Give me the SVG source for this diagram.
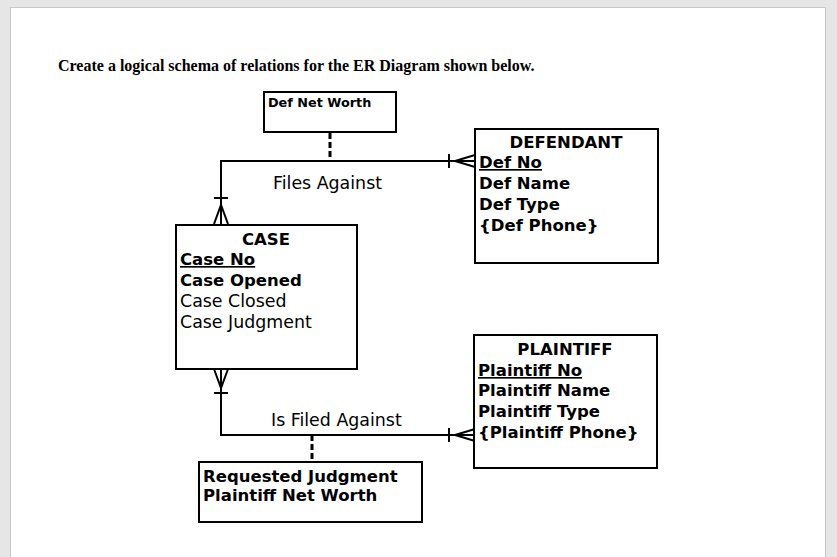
<svg xmlns="http://www.w3.org/2000/svg" width="837" height="557" viewBox="0 0 837 557">
<style>
.box{fill:#fff;stroke:#000;stroke-width:2}
.t{font-family:"DejaVu Sans",Verdana,sans-serif;font-size:17.4px;fill:#000}
.b{font-weight:bold;font-size:16.5px}
.s{font-size:12.8px}
.u{text-decoration:underline}
.ln{fill:none;stroke:#000;stroke-width:2}
.dash{stroke:#000;stroke-width:3;stroke-dasharray:6,3}
</style>
<rect width="837" height="557" fill="#e6e6e6"/>
<rect x="10.5" y="7.5" width="815" height="560" fill="#fff" stroke="#c8c8c8"/>
<text x="58" y="71" font-family="Liberation Serif,serif" font-weight="bold" font-size="16">Create a logical schema of relations for the ER Diagram shown below.</text>
<g id="connectors">
<polyline class="ln" points="221,224 221,161 475,161"/>
<polyline class="ln" points="221,369 221,435 474,435"/>
<polyline class="ln" points="475,155 455,161 475,167"/>
<line class="ln" x1="449" y1="154" x2="449" y2="168"/>
<polyline class="ln" points="475,429 455,435 475,441"/>
<line class="ln" x1="449" y1="428" x2="449" y2="442"/>
<polyline class="ln" points="214,224 221,205 228,224"/>
<line class="ln" x1="214" y1="198" x2="228" y2="198"/>
<polyline class="ln" points="214,369 221,388 228,369"/>
<line class="ln" x1="214" y1="393" x2="228" y2="393"/>
<line class="dash" x1="330" y1="133" x2="330" y2="161"/>
<line class="dash" x1="312" y1="435" x2="312" y2="462"/>
<text class="t" x="273" y="189">Files Against</text>
<text class="t" x="271" y="426">Is Filed Against</text>
</g>
<g id="defnetworth">
<rect class="box" x="264" y="92" width="132" height="40"/>
<text class="t b s" x="268" y="107">Def Net Worth</text>
</g>
<g id="defendant">
<rect class="box" x="475" y="129" width="183" height="134"/>
<text class="t b" x="566" y="148" text-anchor="middle">DEFENDANT</text>
<text class="t b u" x="479" y="168">Def No</text>
<text class="t b" x="479" y="189">Def Name</text>
<text class="t b" x="479" y="210">Def Type</text>
<text class="t b" x="479" y="231">{Def Phone}</text>
</g>
<g id="case">
<rect class="box" x="176" y="225" width="181" height="144"/>
<text class="t b" x="266" y="245" text-anchor="middle">CASE</text>
<text class="t b u" x="180" y="265">Case No</text>
<text class="t b" x="180" y="286">Case Opened</text>
<text class="t" x="180" y="307">Case Closed</text>
<text class="t" x="180" y="328">Case Judgment</text>
</g>
<g id="plaintiff">
<rect class="box" x="474" y="335" width="183" height="133"/>
<text class="t b" x="565" y="355" text-anchor="middle">PLAINTIFF</text>
<text class="t b u" x="478" y="376">Plaintiff No</text>
<text class="t b" x="478" y="396">Plaintiff Name</text>
<text class="t b" x="478" y="417">Plaintiff Type</text>
<text class="t b" x="478" y="438">{Plaintiff Phone}</text>
</g>
<g id="requested">
<rect class="box" x="199" y="462" width="223" height="60"/>
<text class="t b" x="203" y="482">Requested Judgment</text>
<text class="t b" x="203" y="501">Plaintiff Net Worth</text>
</g>
</svg>
